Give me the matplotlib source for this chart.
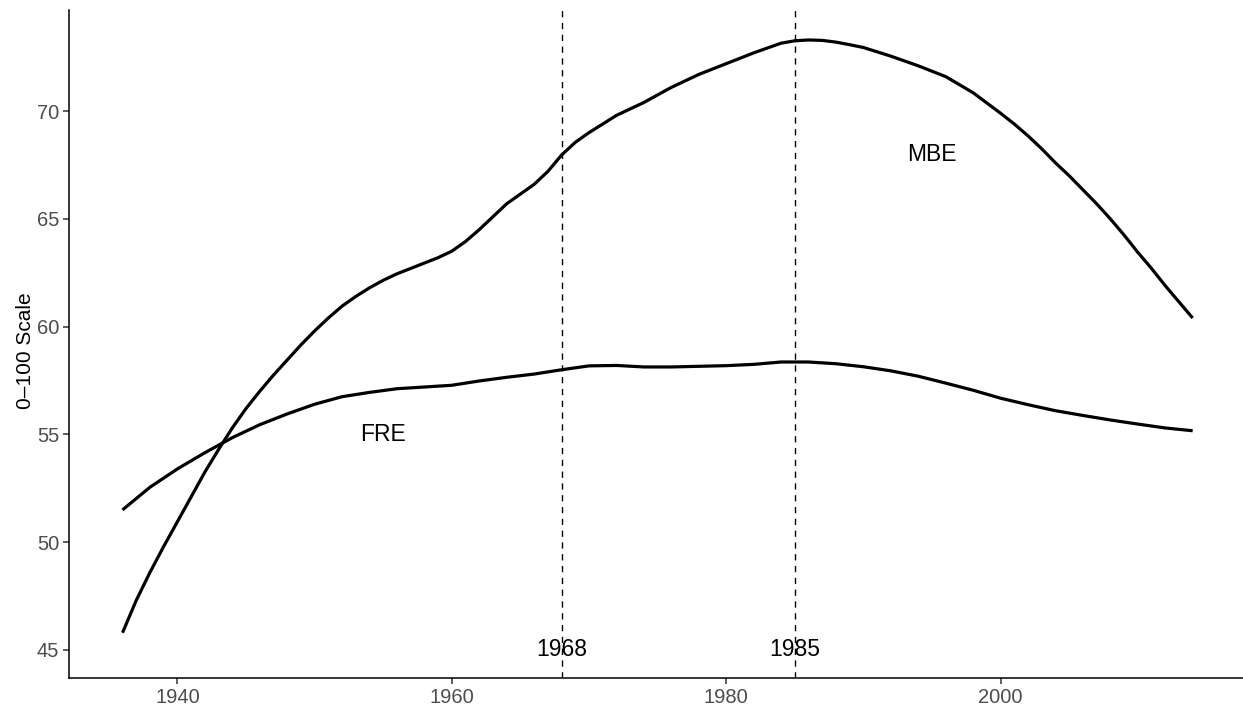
import matplotlib
matplotlib.use("Agg")
import matplotlib.pyplot as plt

plt.rcParams['font.family'] = ['Liberation Sans', 'DejaVu Sans']

# MBE series (year, 0-100 scale)
mbe_years = [1936, 1937, 1938, 1939, 1940, 1941, 1942, 1943, 1944, 1945, 1946, 1947,
             1948, 1949, 1950, 1951, 1952, 1953, 1954, 1955, 1956, 1957, 1958, 1959,
             1960, 1961, 1962, 1963, 1964, 1965, 1966, 1967, 1968, 1969, 1970, 1972,
             1974, 1976, 1978, 1980, 1982, 1984, 1985, 1986, 1987, 1988, 1989, 1990,
             1992, 1994, 1996, 1998, 2000, 2001, 2002, 2003, 2004, 2005, 2006, 2007,
             2008, 2009, 2010, 2011, 2012, 2013, 2014]
mbe_values = [45.8, 47.3, 48.6, 49.8, 50.95, 52.1, 53.25, 54.3, 55.3, 56.2, 57.0, 57.75,
              58.45, 59.15, 59.8, 60.4, 60.95, 61.4, 61.8, 62.15, 62.45, 62.7, 62.95, 63.2,
              63.5, 63.95, 64.5, 65.1, 65.7, 66.15, 66.6, 67.2, 67.96, 68.55, 69.0, 69.8,
              70.4, 71.1, 71.7, 72.2, 72.7, 73.15, 73.26, 73.3, 73.28, 73.2, 73.08, 72.95,
              72.55, 72.1, 71.6, 70.85, 69.9, 69.4, 68.85, 68.25, 67.6, 67.0, 66.35, 65.7,
              65.0, 64.25, 63.45, 62.7, 61.9, 61.15, 60.4]

# FRE series
fre_years = [1936, 1938, 1940, 1942, 1944, 1946, 1948, 1950, 1952, 1954, 1956, 1958,
             1960, 1962, 1964, 1966, 1968, 1970, 1972, 1974, 1976, 1978, 1980, 1982,
             1984, 1986, 1988, 1990, 1992, 1994, 1996, 1998, 2000, 2002, 2004, 2006,
             2008, 2010, 2012, 2014]
fre_values = [51.5, 52.55, 53.4, 54.15, 54.85, 55.45, 55.95, 56.4, 56.75, 56.95, 57.12, 57.2,
              57.28, 57.48, 57.65, 57.8, 58.0, 58.18, 58.2, 58.13, 58.13, 58.16, 58.19, 58.25,
              58.36, 58.36, 58.28, 58.14, 57.95, 57.7, 57.38, 57.05, 56.68, 56.38, 56.1, 55.88,
              55.67, 55.48, 55.3, 55.17]

# Reference years (vertical lines)
ref_years = [1968, 1985]
ref_labels = ["1968", "1985"]

# Series labels
series_labels = ["MBE", "FRE"]
label_x = [1995, 1955]
label_y = [68, 55]

x_ticks = [1940, 1960, 1980, 2000]
y_ticks = [45, 50, 55, 60, 65, 70]

W, H = 1243, 708
fig = plt.figure(figsize=(W / 100, H / 100), dpi=100)
left, right, top, bottom = 69, 1243, 10, 678
ax = fig.add_axes([left / W, 1 - bottom / H, (right - left) / W, (bottom - top) / H])

ax.plot(mbe_years, mbe_values, color='black', lw=2.3, solid_capstyle='butt',
        solid_joinstyle='round')
ax.plot(fre_years, fre_values, color='black', lw=2.3, solid_capstyle='butt',
        solid_joinstyle='round')

for yr, lab in zip(ref_years, ref_labels):
    ax.axvline(yr, color='black', lw=1.0, linestyle=(0, (4.5, 4)))
    ax.text(yr, 45, lab, ha='center', va='center', fontsize=16.5, color='black')

for lab, lx, ly in zip(series_labels, label_x, label_y):
    ax.text(lx, ly, lab, ha='center', va='center', fontsize=16.5, color='black')

ax.set_xlim(1932.1, 1932.1 + (right - left) / 13.72)
ax.set_ylim(43.70, 74.69)
ax.set_xticks(x_ticks)
ax.set_yticks(y_ticks)

for s in ['top', 'right']:
    ax.spines[s].set_visible(False)
for s in ['left', 'bottom']:
    ax.spines[s].set_linewidth(1.1)
    ax.spines[s].set_color('black')

ax.tick_params(axis='both', length=4, width=1.1, color='#333333',
               labelsize=14.5, labelcolor='#4D4D4D', pad=3)
ax.set_ylabel("0\u2013100 Scale", fontsize=15, color='black')
ax.yaxis.set_label_coords(-0.029, 0.49)
ax.set_xlabel("")

fig.savefig("out.png", dpi=100)
